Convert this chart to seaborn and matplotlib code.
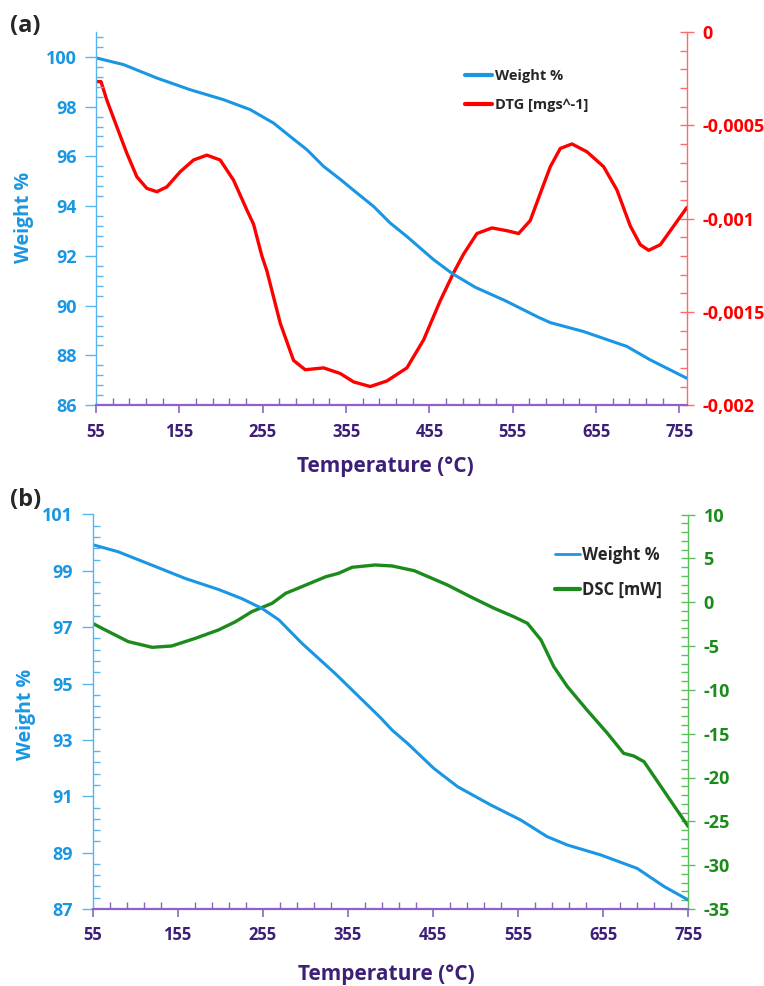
import numpy as np
import pandas as pd
import matplotlib
matplotlib.use("Agg")
import matplotlib.pyplot as plt
import seaborn as sns
from matplotlib.ticker import MultipleLocator, FuncFormatter

# ---------------- data ----------------
# Panel (a): TGA weight %
ta_w = [55, 88, 128, 168, 208, 240, 268, 288, 308, 328, 348, 368, 388, 408, 428, 460, 482, 510, 546, 586,
        600, 640, 692, 720, 764]
wa = [99.96, 99.69, 99.15, 98.68, 98.28, 97.88, 97.34, 96.8, 96.27, 95.6, 95.08, 94.53, 93.99, 93.32, 92.78,
      91.85, 91.3, 90.74, 90.2, 89.53, 89.32, 88.96, 88.36, 87.82, 87.08]
# Panel (a): DTG [mg s^-1]
ta_d = [55, 61, 68, 80, 92, 104, 116, 128, 140, 156, 172, 188, 204, 220, 236, 244, 254, 260, 276, 292, 306,
        328, 348, 364, 384, 404, 428, 448, 468, 484, 496, 512, 530, 548, 562, 576, 588, 600, 612, 626, 644,
        664, 680, 696, 708, 718, 732, 748, 764]
dtg = [-0.000266, -0.000266, -0.000365, -0.000508, -0.00065, -0.000776, -0.000838, -0.000856, -0.00083,
       -0.000749, -0.000686, -0.00066, -0.000686, -0.000794, -0.000954, -0.00103, -0.0012, -0.00128,
       -0.00156, -0.00176, -0.00181, -0.0018, -0.00183, -0.001875, -0.0019, -0.00187, -0.0018, -0.00165,
       -0.00144, -0.00129, -0.00119, -0.00108, -0.00105, -0.001065, -0.00108, -0.00101, -0.000865,
       -0.000722, -0.000624, -0.0006, -0.000642, -0.000722, -0.000847, -0.00104, -0.00114, -0.00117,
       -0.00114, -0.00104, -0.00094]
# Panel (b): TGA weight %
tb_w = [55, 85, 125, 164, 203, 230, 254, 274, 301, 340, 393, 407, 425, 456, 484, 523, 558, 589, 613,
        652, 695, 727, 755]
wb = [99.93, 99.68, 99.2, 98.73, 98.34, 98.02, 97.67, 97.26, 96.43, 95.36, 93.8, 93.35, 92.88, 91.99,
      91.34, 90.69, 90.16, 89.57, 89.27, 88.92, 88.44, 87.79, 87.32]
# Panel (b): DSC [mW]
tb_d = [55, 70, 97, 125, 148, 176, 203, 223, 242, 266, 282, 301, 329, 344, 360, 387, 407, 433, 472, 499,
        527, 550, 566, 582, 597, 613, 636, 660, 679, 691, 703, 723, 739, 755]
dsc = [-2.41, -3.17, -4.5, -5.15, -5.0, -4.12, -3.17, -2.23, -1.09, -0.13, 1.01, 1.77, 2.9, 3.29, 3.98, 4.24,
       4.13, 3.59, 1.96, 0.62, -0.7, -1.66, -2.41, -4.32, -7.36, -9.64, -12.3, -14.96, -17.24, -17.55, -18.2,
       -21.05, -23.33, -25.6]

x_ticks = [55, 155, 255, 355, 455, 555, 655, 755]
wa_ticks = [86, 88, 90, 92, 94, 96, 98, 100]
wb_ticks = [87, 89, 91, 93, 95, 97, 99, 101]

# ---------------- style ----------------
sns.set_style("white")
FONT = ['Open Sans', 'DejaVu Sans']
plt.rcParams['font.family'] = FONT
plt.rcParams['font.weight'] = 'bold'

BLUE = '#1a96e2'
BLUE_AX = '#5ab4ee'
RED = '#ff0000'
RED_AX = '#ff6a6a'
GREEN = '#1b8c1b'
GREEN_AX = '#5cbf5c'
PURPLE_TXT = '#3d1f78'
PURPLE_AX = '#8c63c4'

fig = plt.figure(figsize=(7.64, 9.86), dpi=100)


def style_axes(ax, axr, xlim, ylim, ylim_r, yticks, ymin_off, rmaj, rmin, rcolor, raxcolor, rfmt):
    ax.set_xlim(*xlim)
    ax.set_ylim(*ylim)
    axr.set_ylim(*ylim_r)
    for a in (ax, axr):
        for s in a.spines.values():
            s.set_visible(False)
    ax.spines['left'].set_visible(True)
    ax.spines['left'].set_color(BLUE_AX)
    ax.spines['left'].set_linewidth(1.0)
    ax.spines['bottom'].set_visible(True)
    ax.spines['bottom'].set_color(PURPLE_AX)
    ax.spines['bottom'].set_linewidth(1.6)
    axr.spines['right'].set_visible(True)
    axr.spines['right'].set_color(raxcolor)
    axr.spines['right'].set_linewidth(1.0)
    ax.set_xticks(x_ticks)
    ax.xaxis.set_minor_locator(MultipleLocator(20, offset=15))
    ax.set_yticks(yticks)
    ax.yaxis.set_minor_locator(MultipleLocator(0.4, offset=ymin_off))
    axr.yaxis.set_major_locator(MultipleLocator(rmaj))
    axr.yaxis.set_minor_locator(MultipleLocator(rmin))
    axr.yaxis.set_major_formatter(FuncFormatter(rfmt))
    ax.tick_params(axis='x', which='major', direction='out', length=6, width=1.2, color=PURPLE_AX,
                   labelcolor=PURPLE_TXT, labelsize=12, pad=6.5, bottom=True)
    ax.tick_params(axis='x', which='minor', direction='in', length=5, width=1, color=PURPLE_AX, bottom=True)
    ax.tick_params(axis='y', which='major', direction='out', length=8, width=1, color=BLUE_AX,
                   labelcolor=BLUE, labelsize=13, pad=6, left=True)
    ax.tick_params(axis='y', which='minor', direction='in', length=5, width=1, color=BLUE_AX, left=True)
    axr.tick_params(axis='y', which='major', direction='inout', length=10, width=1, color=raxcolor,
                    labelcolor=rcolor, labelsize=13, pad=6, right=True)
    axr.tick_params(axis='y', which='minor', direction='in', length=5, width=1, color=raxcolor, right=True)
    for lab in ax.get_xticklabels() + ax.get_yticklabels() + axr.get_yticklabels():
        lab.set_fontweight('bold')
    ax.grid(False)
    axr.grid(False)


# ---------------- panel (a) ----------------
axA = fig.add_axes([96 / 764, (986 - 405.2) / 986, 591 / 764, 373.2 / 986])
axA.set_facecolor('none')
axAr = axA.twinx()
axA.set_zorder(axAr.get_zorder() + 1)

dfa_w = pd.DataFrame({'T': ta_w, 'W': wa})
dfa_d = pd.DataFrame({'T': ta_d, 'D': dtg})
sns.lineplot(data=dfa_w, x='T', y='W', ax=axA, color=BLUE, lw=2.2, sort=False)
sns.lineplot(data=dfa_d, x='T', y='D', ax=axAr, color=RED, lw=2.4, sort=False)


def dtg_fmt(v, pos):
    if abs(v) < 1e-12:
        return '0'
    s = ('%.4f' % v).rstrip('0').rstrip('.')
    return s.replace('.', ',')


style_axes(axA, axAr, (55, 764), (86, 101), (-0.002, 0), wa_ticks, 0.0, 0.0005, 0.0001, RED, RED_AX, dtg_fmt)
axA.set_ylabel('Weight %', color=BLUE, fontsize=14, fontweight='bold')
axA.yaxis.set_label_coords(-0.105, 0.502)
axA.set_xlabel('Temperature (°C)', color=PURPLE_TXT, fontsize=15, fontweight='bold')
axA.xaxis.set_label_coords(0.49, -0.137)
axAr.set_ylabel('')

hA = [plt.Line2D([], [], color=BLUE, lw=3), plt.Line2D([], [], color=RED, lw=3)]
axA.legend(hA, ['Weight %', 'DTG [mgs^-1]'], loc='upper left', bbox_to_anchor=(0.624, 0.900),
           frameon=False, prop={'family': FONT, 'weight': 'bold', 'size': 10.5},
           handlelength=1.85, handletextpad=0.2, labelspacing=1.0, borderpad=0, borderaxespad=0)

# ---------------- panel (b) ----------------
axB = fig.add_axes([92.5 / 764, 77 / 986, 595.8 / 764, 394.5 / 986])
axB.set_facecolor('none')
axBr = axB.twinx()
axB.set_zorder(axBr.get_zorder() + 1)

dfb_w = pd.DataFrame({'T': tb_w, 'W': wb})
dfb_d = pd.DataFrame({'T': tb_d, 'D': dsc})
sns.lineplot(data=dfb_w, x='T', y='W', ax=axB, color=BLUE, lw=2.2, sort=False)
sns.lineplot(data=dfb_d, x='T', y='D', ax=axBr, color=GREEN, lw=2.4, sort=False)


def dsc_fmt(v, pos):
    return '%d' % round(v)


style_axes(axB, axBr, (55, 755), (87, 101), (-35, 10), wb_ticks, 0.2, 5, 1, GREEN, GREEN_AX, dsc_fmt)
axB.set_ylabel('Weight %', color=BLUE, fontsize=14, fontweight='bold')
axB.yaxis.set_label_coords(-0.095, 0.494)
axB.set_xlabel('Temperature (°C)', color=PURPLE_TXT, fontsize=15, fontweight='bold')
axB.xaxis.set_label_coords(0.494, -0.14)
axBr.set_ylabel('')

hB = [plt.Line2D([], [], color=BLUE, lw=2), plt.Line2D([], [], color=GREEN, lw=3)]
axB.legend(hB, ['Weight %', 'DSC [mW]'], loc='upper left', bbox_to_anchor=(0.777, 0.92),
           frameon=False, prop={'family': FONT, 'weight': 'bold', 'size': 12},
           handlelength=1.5, handletextpad=0.1, labelspacing=1.0, borderpad=0, borderaxespad=0)

fig.text(10 / 764, 1 - 26 / 986, '(a)', fontsize=17, fontweight='bold', va='center', ha='left',
         family=FONT)
fig.text(10 / 764, 1 - 500 / 986, '(b)', fontsize=17, fontweight='bold', va='center', ha='left',
         family=FONT)

fig.savefig('out.png', dpi=100, facecolor='white')
